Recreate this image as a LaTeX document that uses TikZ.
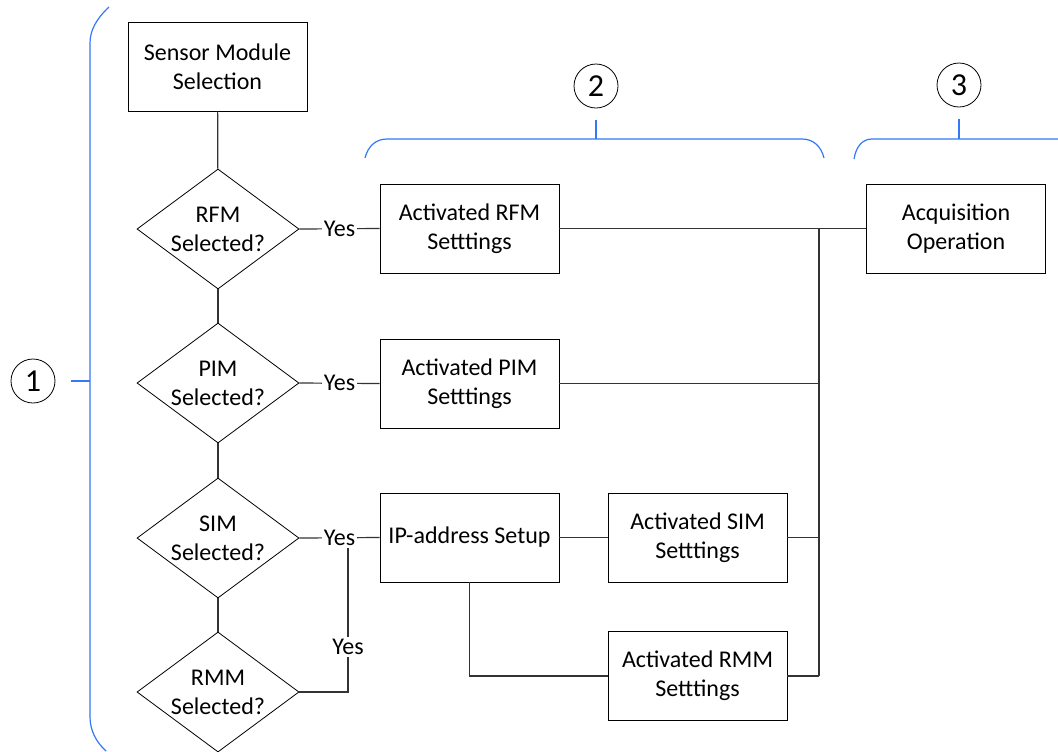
\documentclass[tikz,border=0pt]{standalone}
\usepackage{fontspec}
\setmainfont{Carlito}
\usetikzlibrary{shapes.geometric}

\definecolor{braceblue}{RGB}{52,120,246}

\begin{document}
\begin{tikzpicture}[
    x=0.5pt, y=-0.5pt,
    box/.style={draw, minimum width=89.5pt, minimum height=44.5pt,
        inner sep=2pt, align=center, font=\fontsize{12}{14.5}\selectfont},
    decision/.style={draw, diamond, aspect=1.35, minimum width=81pt,
        minimum height=60pt, inner sep=0pt, align=center,
        font=\fontsize{12}{14.5}\selectfont},
    yes/.style={fill=white, inner sep=1pt, font=\fontsize{12}{14.5}\selectfont},
    num/.style={draw, circle, minimum size=22pt, inner sep=0pt,
        font=\fontsize{16}{18}\selectfont},
    link/.style={draw=black!80, line width=0.6pt},
    brace/.style={draw=braceblue, line width=0.6pt}
  ]
  \useasboundingbox (0,0) rectangle (1058,751);

  % decision column
  \node[box] (sms) at (217.5,66.5) {Sensor Module\\Selection};
  \node[decision] (rfm) at (218,229) {RFM\\Selected?};
  \node[decision] (pim) at (218,383) {PIM\\Selected?};
  \node[decision] (sim) at (218,538) {SIM\\Selected?};
  \node[decision] (rmm) at (218,692) {RMM\\Selected?};

  % settings
  \node[box] (arfm) at (469.5,228.5) {Activated RFM\\Setttings};
  \node[box] (apim) at (469.5,383.5) {Activated PIM\\Setttings};
  \node[box] (ip) at (469.5,537.5) {IP-address Setup};
  \node[box] (asim) at (697.5,537.5) {Activated SIM\\Setttings};
  \node[box] (armm) at (697.5,676) {Activated RMM\\Setttings};
  \node[box] (acq) at (956,228.5) {Acquisition\\Operation};

  \coordinate (bus) at (819,229);

  \draw[link] (sms) -- (rfm);
  \draw[link] (rfm) -- (pim);
  \draw[link] (pim) -- (sim);
  \draw[link] (sim) -- (rmm);

  \draw[link] (rfm.east) -- node[yes] {Yes} (arfm.west);
  \draw[link] (pim.east) -- node[yes] {Yes} (apim.west);
  \draw[link] (sim.east) -- node[yes] (yess) {Yes} (ip.west);
  \node[yes] (yesr) at (348,647) {Yes};
  \draw[link] (rmm.east) -| (yesr.south);
  \draw[link] (yesr.north) -- (yesr |- yess.south);

  \draw[link] (ip) -- (asim);
  \draw[link] (ip.south) |- (armm.west);

  \draw[link] (arfm.east) -- (acq.west);
  \draw[link] (apim.east) -- (apim.east -| bus);
  \draw[link] (asim.east) -- (asim.east -| bus);
  \draw[link] (armm.east) -- (armm.east -| bus);
  \draw[link] (bus) -- (bus |- armm.east);

  % stage markers
  \node[num] (n1) at (33,381) {1};
  \node[num] (n2) at (596,86) {2};
  \node[num] (n3) at (959,85) {3};

  \draw[brace] (109,7) .. controls (97,18) and (90,30) .. (90,43)
    -- (90,717) .. controls (90,730) and (96,742) .. (106,751);
  \draw[brace] ([xshift=8pt]n1.east) -- (90,381);

  \draw[brace] (365,158) .. controls (368,146) and (376,139) .. (387,139)
    -- (802,139) .. controls (813,139) and (821,146) .. (824,158);
  \draw[brace] ([yshift=-6pt]n2.south) -- (n2 |- 0,139);

  \draw[brace] (854,159) .. controls (856,147) and (862,139) .. (872,139)
    -- (1058,139);
  \draw[brace] ([yshift=-6pt]n3.south) -- (n3 |- 0,139);
\end{tikzpicture}
\end{document}
